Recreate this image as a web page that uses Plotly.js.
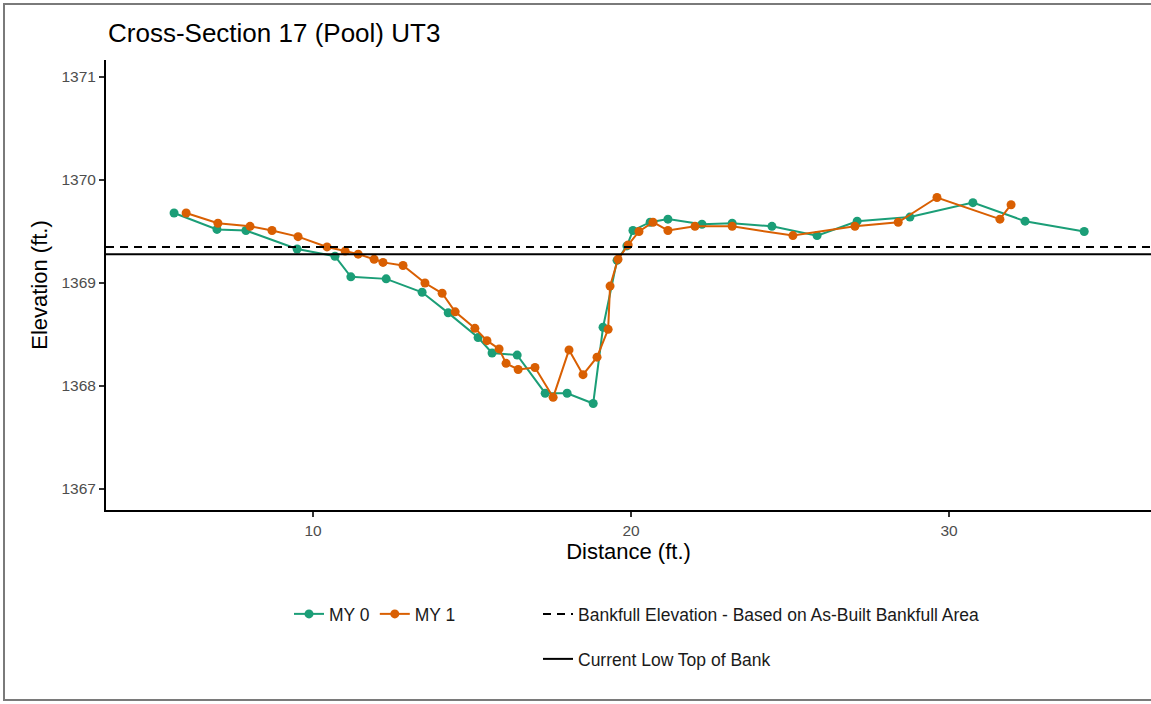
<!DOCTYPE html>
<html>
<head>
<meta charset="utf-8">
<script src="https://cdn.plot.ly/plotly-3.0.1.min.js"></script>
<style>
  html, body { margin: 0; padding: 0; background: #fff; }
  #plot { position: absolute; left: 0; top: 0; width: 1151px; height: 704px; }
  #frame { position: absolute; left: 3px; top: 3px; width: 1160px; height: 698px;
           border: 2px solid #7a7a7a; pointer-events: none; box-sizing: border-box; }
</style>
</head>
<body>
<div id="plot"></div>
<div id="frame"></div>
<script>
// MY 0 survey
const my0Dist = [5.63, 6.98, 7.89, 9.50, 10.69, 11.19, 12.30, 13.43, 14.25, 15.19, 15.63, 16.42, 17.30, 17.99, 18.81, 19.12, 19.56, 19.87, 20.06, 20.60, 21.16, 22.23, 23.18, 24.43, 25.85, 27.11, 28.77, 30.75, 32.39, 34.25];
const my0Elev = [1369.68, 1369.52, 1369.51, 1369.33, 1369.26, 1369.06, 1369.04, 1368.91, 1368.71, 1368.47, 1368.32, 1368.30, 1367.93, 1367.93, 1367.83, 1368.57, 1369.22, 1369.36, 1369.51, 1369.59, 1369.62, 1369.57, 1369.58, 1369.55, 1369.46, 1369.60, 1369.64, 1369.78, 1369.60, 1369.50];
// MY 1 survey
const my1Dist = [6.01, 7.01, 8.02, 8.71, 9.53, 10.44, 11.01, 11.42, 11.92, 12.20, 12.83, 13.52, 14.06, 14.47, 15.09, 15.47, 15.85, 16.07, 16.45, 16.98, 17.55, 18.05, 18.49, 18.93, 19.28, 19.34, 19.59, 19.91, 20.25, 20.69, 21.16, 22.01, 23.18, 25.09, 27.04, 28.40, 29.62, 31.60, 31.95];
const my1Elev = [1369.68, 1369.58, 1369.55, 1369.51, 1369.45, 1369.35, 1369.31, 1369.28, 1369.23, 1369.20, 1369.17, 1369.00, 1368.90, 1368.72, 1368.56, 1368.44, 1368.36, 1368.22, 1368.16, 1368.18, 1367.89, 1368.35, 1368.11, 1368.28, 1368.55, 1368.97, 1369.23, 1369.37, 1369.50, 1369.59, 1369.51, 1369.55, 1369.55, 1369.46, 1369.55, 1369.59, 1369.83, 1369.62, 1369.76];
// Reference elevations
const bankfullElev = 1369.35;
const lowTopOfBank = 1369.28;
const xSpan = [3.49, 36.35];
const yTicks = [1367, 1368, 1369, 1370, 1371];
const xTicks = [10, 20, 30];

const green = '#1b9e77', orange = '#d95f02';
const font = 'Liberation Sans, Arial, Helvetica, sans-serif';

const traces = [
  { x: my0Dist, y: my0Elev, name: 'MY 0', type: 'scatter', mode: 'lines+markers',
    line: { color: green, width: 2 }, marker: { color: green, size: 9 }, legend: 'legend' },
  { x: my1Dist, y: my1Elev, name: 'MY 1', type: 'scatter', mode: 'lines+markers',
    line: { color: orange, width: 2 }, marker: { color: orange, size: 9 }, legend: 'legend' },
  { x: xSpan, y: [bankfullElev, bankfullElev], name: 'Bankfull Elevation - Based on As-Built Bankfull Area',
    type: 'scatter', mode: 'lines', line: { color: '#000', width: 2, dash: '8px,6px' }, legend: 'legend2' },
  { x: xSpan, y: [lowTopOfBank, lowTopOfBank], name: 'Current Low Top of Bank',
    type: 'scatter', mode: 'lines', line: { color: '#000', width: 2 }, legend: 'legend3' }
];

const legendBase = { orientation: 'h', xanchor: 'left', yanchor: 'middle', itemwidth: 30,
  font: { family: font, size: 17.5, color: '#1a1a1a' }, bgcolor: 'rgba(0,0,0,0)', tracegroupgap: 0 };

const layout = {
  width: 1151, height: 704,
  margin: { l: 106, r: 0, t: 60, b: 194 },
  paper_bgcolor: '#fff', plot_bgcolor: '#fff',
  font: { family: font },
  title: { text: 'Cross-Section 17 (Pool) UT3', x: 108 / 1151, xanchor: 'left', y: 1 - 33 / 704, yanchor: 'middle',
           font: { family: font, size: 26, color: '#000' } },
  xaxis: { range: [3.49, 36.35], tickvals: xTicks, ticktext: xTicks.map(String), showgrid: false, zeroline: false,
           showline: true, linecolor: '#000', linewidth: 2, ticks: 'outside', ticklen: 5, tickcolor: '#333', tickwidth: 1.5,
           tickfont: { family: font, size: 15.5, color: '#4d4d4d' },
           title: { text: 'Distance (ft.)', font: { family: font, size: 22, color: '#000' }, standoff: 5 } },
  yaxis: { range: [1366.796, 1371.165], tickvals: yTicks, ticktext: yTicks.map(String), showgrid: false, zeroline: false,
           showline: true, linecolor: '#000', linewidth: 2, ticks: 'outside', ticklen: 5, tickcolor: '#333', tickwidth: 1.5,
           tickfont: { family: font, size: 15.5, color: '#4d4d4d' },
           title: { text: 'Elevation (ft.)', font: { family: font, size: 22, color: '#000' }, standoff: 8 } },
  showlegend: true,
  legend: Object.assign({}, legendBase, { x: (289 - 106) / 1045, y: (510 - 614) / 450 }),
  legend2: Object.assign({}, legendBase, { x: (538 - 106) / 1045, y: (510 - 614) / 450 }),
  legend3: Object.assign({}, legendBase, { x: (538 - 106) / 1045, y: (510 - 659) / 450 })
};

Plotly.newPlot('plot', traces, layout, { displayModeBar: false, staticPlot: true });
</script>
</body>
</html>
